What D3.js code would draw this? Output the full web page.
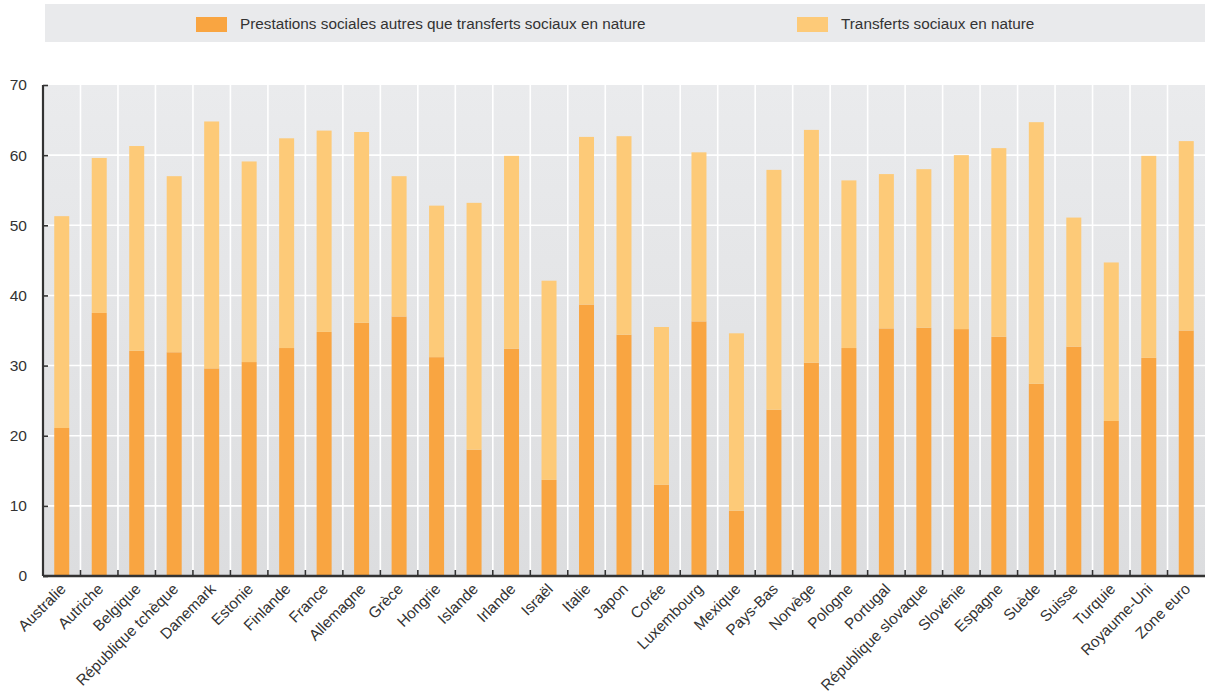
<!DOCTYPE html>
<html>
<head>
<meta charset="utf-8">
<script src="https://cdn.jsdelivr.net/npm/d3@7"></script>
<style>
  html, body { margin: 0; padding: 0; background: #ffffff; }
  svg { display: block; }
  text { font-family: "Liberation Sans", Arial, Helvetica, sans-serif; fill: #333333; }
</style>
</head>
<body>
<svg id="chart" width="1205" height="695"></svg>
<script>
// Social benefits by country, % of total (stacked)
const countries = [
  "Australie", "Autriche", "Belgique", "République tchèque", "Danemark", "Estonie",
  "Finlande", "France", "Allemagne", "Grèce", "Hongrie", "Islande", "Irlande",
  "Israël", "Italie", "Japon", "Corée", "Luxembourg", "Mexique", "Pays-Bas",
  "Norvège", "Pologne", "Portugal", "République slovaque", "Slovénie", "Espagne",
  "Suède", "Suisse", "Turquie", "Royaume-Uni", "Zone euro"
];

// Prestations sociales autres que transferts sociaux en nature
const cashBenefits = [
  21.1, 37.5, 32.1, 31.9, 29.6, 30.5,
  32.5, 34.8, 36.1, 37.0, 31.2, 18.0, 32.4,
  13.7, 38.7, 34.4, 13.0, 36.3, 9.3, 23.7,
  30.4, 32.5, 35.3, 35.4, 35.2, 34.1,
  27.4, 32.7, 22.1, 31.1, 35.0
];

// Totals (prestations + transferts sociaux en nature)
const totals = [
  51.3, 59.6, 61.3, 57.0, 64.8, 59.1,
  62.4, 63.5, 63.3, 57.0, 52.8, 53.2, 59.9,
  42.1, 62.6, 62.7, 35.5, 60.4, 34.6, 57.9,
  63.6, 56.4, 57.3, 58.0, 60.0, 61.0,
  64.7, 51.1, 44.7, 59.9, 62.0
];

const inKind = totals.map((t, i) => +(t - cashBenefits[i]).toFixed(1));

const seriesNames = ["Prestations sociales autres que transferts sociaux en nature", "Transferts sociaux en nature"];
const seriesColors = ["#f9a541", "#fdca78"];
const yTicks = [0, 10, 20, 30, 40, 50, 60, 70];

const rows = countries.map((c, i) => ({ country: c, cash: cashBenefits[i], kind: inKind[i] }));

const svg = d3.select("#chart");
const margin = { left: 43, right: 0, top: 85, bottom: 119 };
const W = 1205, H = 695;
const plotBottom = H - margin.bottom; // 576

const x = d3.scaleBand()
  .domain(countries)
  .range([margin.left, W - margin.right])
  .paddingInner(0.6)
  .paddingOuter(0.3);

const y = d3.scaleLinear().domain([0, 70]).range([plotBottom, margin.top]);

// Background gradient of plot area
const defs = svg.append("defs");
const grad = defs.append("linearGradient").attr("id", "bg").attr("x1", 0).attr("y1", 0).attr("x2", 0).attr("y2", 1);
grad.append("stop").attr("offset", "0%").attr("stop-color", "#eaebed");
grad.append("stop").attr("offset", "100%").attr("stop-color", "#dcdddf");

svg.append("rect")
  .attr("x", margin.left).attr("y", y(70))
  .attr("width", W - margin.right - margin.left).attr("height", plotBottom - y(70))
  .attr("fill", "url(#bg)");

// White gridlines
svg.append("g").selectAll("line").data(yTicks.filter(d => d > 0 && d < 70)).join("line")
  .attr("x1", margin.left).attr("x2", W - margin.right)
  .attr("y1", d => y(d)).attr("y2", d => y(d))
  .attr("stroke", "#ffffff").attr("stroke-width", 1.6);

// White separators between countries
const step = x.step();
const boundaries = d3.range(1, countries.length).map(i => margin.left + i * step);
svg.append("g").selectAll("line").data(boundaries).join("line")
  .attr("x1", d => d).attr("x2", d => d)
  .attr("y1", y(70)).attr("y2", plotBottom)
  .attr("stroke", "#ffffff").attr("stroke-width", 1.6);

// Stacked bars
const stack = d3.stack().keys(["cash", "kind"]);
const stacked = stack(rows);
svg.append("g").selectAll("g").data(stacked).join("g")
  .attr("fill", (d, i) => seriesColors[i])
  .selectAll("rect").data(d => d).join("rect")
  .attr("x", d => x(d.data.country))
  .attr("width", x.bandwidth())
  .attr("y", d => y(d[1]))
  .attr("height", d => y(d[0]) - y(d[1]));

// Y axis
const yAxis = svg.append("g").attr("transform", `translate(${margin.left},0)`)
  .call(d3.axisRight(y).tickValues(yTicks).tickSize(5).tickFormat(d3.format("d")));
yAxis.select(".domain").attr("stroke", "#333333").attr("stroke-width", 2.2)
  .attr("d", `M0,${y(70)}V${plotBottom}`);
yAxis.selectAll(".tick line").attr("stroke", "#333333").attr("stroke-width", 1.6);
yAxis.selectAll(".tick text")
  .attr("x", -16).attr("text-anchor", "end")
  .style("font-size", "15.5px").attr("fill", "#333333");

// X axis
const xAxis = svg.append("g").attr("transform", `translate(0,${plotBottom})`)
  .call(d3.axisBottom(x).tickSize(0).tickPadding(0));
xAxis.select(".domain").attr("stroke", "#333333").attr("stroke-width", 2.5)
  .attr("d", `M${margin.left},0H${W}`);
xAxis.selectAll(".tick text")
  .attr("text-anchor", "end")
  .attr("x", 0).attr("y", 0).attr("dy", 0)
  .attr("transform", "translate(5,14) rotate(-45)")
  .style("font-size", "15.4px").attr("fill", "#333333");

// Tick marks at country boundaries on the bottom axis (pointing up)
svg.append("g").selectAll("line").data(boundaries).join("line")
  .attr("x1", d => d).attr("x2", d => d)
  .attr("y1", plotBottom - 6).attr("y2", plotBottom)
  .attr("stroke", "#333333").attr("stroke-width", 1.6);

// Legend
const legend = svg.append("g");
legend.append("rect").attr("x", 45).attr("y", 4).attr("width", 1160).attr("height", 38).attr("fill", "#e9eaec");
const legendX = [196, 797];
seriesNames.forEach((name, i) => {
  legend.append("rect").attr("x", legendX[i]).attr("y", 17).attr("width", 31).attr("height", 15).attr("fill", seriesColors[i]);
  legend.append("text").attr("x", legendX[i] + 44).attr("y", 29)
    .style("font-size", "15.3px").attr("fill", "#333333").text(name);
});
</script>
</body>
</html>
